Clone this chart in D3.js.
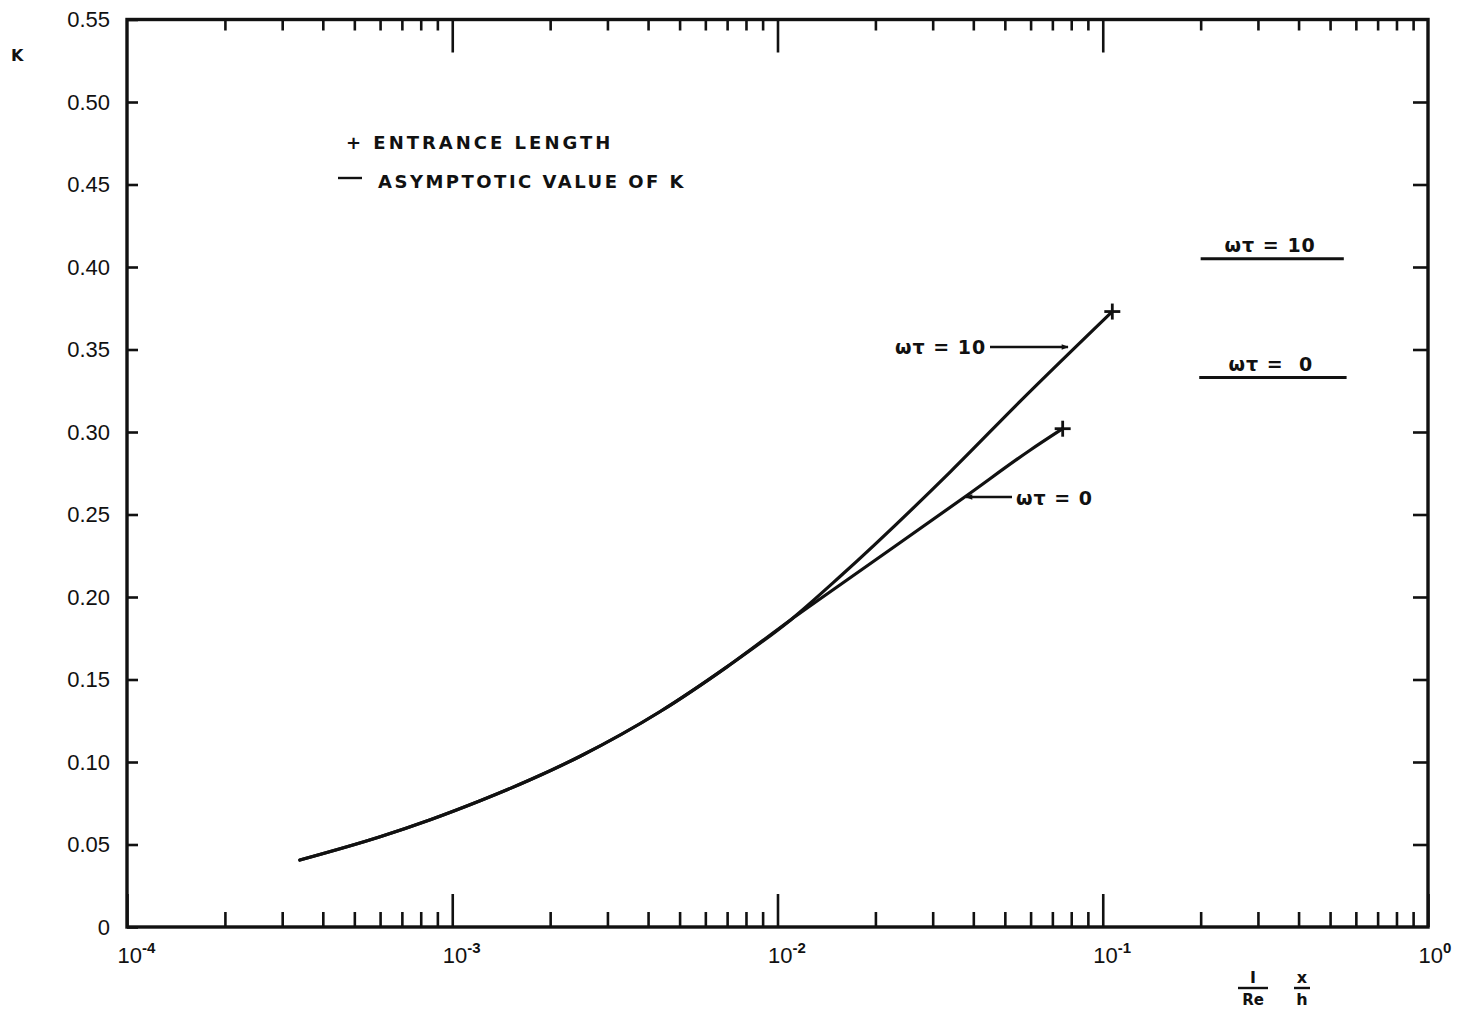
<!DOCTYPE html>
<html>
<head>
<meta charset="utf-8">
<script src="https://cdn.jsdelivr.net/npm/d3@7"></script>
<style>
  html, body { margin: 0; padding: 0; background: #fff; }
  svg { display: block; }
  text { font-family: "DejaVu Sans", "Liberation Sans", Arial, sans-serif; font-weight: bold; fill: #111; }
  .num { font-family: "Liberation Sans", "DejaVu Sans", Arial, sans-serif; }
</style>
</head>
<body>
<svg id="chart" width="1460" height="1013"></svg>
<script>
// K versus (1/Re)(x/h), log scale on x
const sharedX = [3.4e-4, 6.0e-4, 8.56e-4, 1.218e-3, 1.736e-3, 2.474e-3, 4.36e-3, 7.01e-3, 1.097e-2];
const sharedK = [0.0406, 0.0547, 0.065, 0.0765, 0.0892, 0.1035, 0.1306, 0.1578, 0.1861];

const branch10X = [0.01563, 0.03405, 0.056, 0.107];
const branch10K = [0.2127, 0.276, 0.319, 0.373];

const branch0X = [0.01677, 0.0384, 0.0596, 0.0753];
const branch0K = [0.2118, 0.2618, 0.2888, 0.302];

// end of the entrance length (+ markers)
const entranceX = [0.107, 0.0753];
const entranceK = [0.373, 0.302];

// asymptotic values of K
const asymLabels = ["ωτ = 10", "ωτ =  0"];
const asymK = [0.405, 0.333];
const asymX0 = [0.200, 0.198];
const asymX1 = [0.551, 0.562];

const yTicks = [0, 0.05, 0.10, 0.15, 0.20, 0.25, 0.30, 0.35, 0.40, 0.45, 0.50, 0.55];
const yTickLabels = ["0", "0.05", "0.10", "0.15", "0.20", "0.25", "0.30", "0.35", "0.40", "0.45", "0.50", "0.55"];
const decades = [1e-4, 1e-3, 1e-2, 1e-1, 1e0];
const decadeExp = ["-4", "-3", "-2", "-1", "0"];

const svg = d3.select("#chart");
const mLeft = 127, mRight = 1428, mTop = 19.5, mBottom = 927;

const x = d3.scaleLog().domain([1e-4, 1]).range([mLeft, mRight]);
const y = d3.scaleLinear().domain([0, 0.55]).range([mBottom, mTop]);

const minorTicks = [];
for (let d = -4; d < 0; d++) for (let m = 2; m <= 9; m++) minorTicks.push(m * Math.pow(10, d));

function styleAxis(g) {
  g.select(".domain").remove();
  g.selectAll(".tick line").attr("stroke", "#111").attr("stroke-width", 2.6);
}

// bottom axis: ticks point inward
svg.append("g").attr("transform", `translate(0,${mBottom})`)
  .call(d3.axisBottom(x).tickValues(minorTicks).tickSize(-15).tickFormat(""))
  .call(styleAxis);
const bMajor = svg.append("g").attr("transform", `translate(0,${mBottom})`)
  .call(d3.axisBottom(x).tickValues(decades).tickSize(-33).tickFormat(""))
  .call(styleAxis);
bMajor.selectAll(".tick text").remove();
bMajor.selectAll(".tick").each(function(d, i) {
  const t = d3.select(this).append("text")
    .attr("class", "num")
    .attr("x", -10).attr("y", 36).attr("text-anchor", "start")
    .style("font-size", "22px").style("font-weight", "normal");
  t.append("tspan").text("10");
  t.append("tspan").attr("dy", -10).style("font-size", "15px").style("font-weight", "bold").text(decadeExp[i]);
});

// top axis
svg.append("g").attr("transform", `translate(0,${mTop})`)
  .call(d3.axisTop(x).tickValues(minorTicks).tickSize(-11).tickFormat(""))
  .call(styleAxis);
svg.append("g").attr("transform", `translate(0,${mTop})`)
  .call(d3.axisTop(x).tickValues(decades.slice(1, 4)).tickSize(-33).tickFormat(""))
  .call(styleAxis);

// left axis
const lAxis = svg.append("g").attr("transform", `translate(${mLeft},0)`)
  .call(d3.axisLeft(y).tickValues(yTicks).tickSize(-11)
    .tickFormat((d, i) => yTickLabels[i]))
  .call(styleAxis);
lAxis.selectAll(".tick text").attr("class", "num")
  .style("font-size", "22px").style("font-weight", "normal")
  .attr("fill", "#111").attr("x", -17).attr("dy", "0.34em");

// right axis
svg.append("g").attr("transform", `translate(${mRight},0)`)
  .call(d3.axisRight(y).tickValues(yTicks.slice(1, 11)).tickSize(-15).tickFormat(""))
  .call(styleAxis);

// frame
svg.append("rect").attr("x", mLeft).attr("y", mTop)
  .attr("width", mRight - mLeft).attr("height", mBottom - mTop)
  .attr("fill", "none").attr("stroke", "#111").attr("stroke-width", 3.4);

// axis titles
svg.append("text").attr("x", 11).attr("y", 61).style("font-size", "16px").text("K");
const fx = 1253, fx2 = 1302;
svg.append("text").attr("x", fx).attr("y", 983).attr("text-anchor", "middle").style("font-size", "16px").text("I");
svg.append("line").attr("x1", fx - 15).attr("x2", fx + 15).attr("y1", 988).attr("y2", 988).attr("stroke", "#111").attr("stroke-width", 2.4);
svg.append("text").attr("x", fx).attr("y", 1005).attr("text-anchor", "middle").style("font-size", "15px").text("Re");
svg.append("text").attr("x", fx2).attr("y", 983).attr("text-anchor", "middle").style("font-size", "16px").text("x");
svg.append("line").attr("x1", fx2 - 8).attr("x2", fx2 + 8).attr("y1", 988).attr("y2", 988).attr("stroke", "#111").attr("stroke-width", 2.4);
svg.append("text").attr("x", fx2).attr("y", 1005).attr("text-anchor", "middle").style("font-size", "16px").text("h");

// curves
const line = d3.line().x(d => x(d[0])).y(d => y(d[1])).curve(d3.curveMonotoneX);
const series = [
  sharedX.map((v, i) => [v, sharedK[i]]).concat(branch10X.map((v, i) => [v, branch10K[i]])),
  sharedX.map((v, i) => [v, sharedK[i]]).concat(branch0X.map((v, i) => [v, branch0K[i]]))
];
svg.selectAll("path.curve").data(series).join("path")
  .attr("class", "curve")
  .attr("d", line)
  .attr("fill", "none").attr("stroke", "#111").attr("stroke-width", 3.2).attr("stroke-linecap", "round");

// entrance-length markers
const cross = svg.selectAll("g.cross").data(entranceX).join("g")
  .attr("class", "cross")
  .attr("transform", (d, i) => `translate(${x(d)},${y(entranceK[i])})`);
cross.append("line").attr("x1", -8).attr("x2", 8).attr("stroke", "#111").attr("stroke-width", 2.8);
cross.append("line").attr("y1", -8).attr("y2", 8).attr("stroke", "#111").attr("stroke-width", 2.8);

// asymptotic values
asymK.forEach((k, i) => {
  svg.append("line")
    .attr("x1", x(asymX0[i])).attr("x2", x(asymX1[i]))
    .attr("y1", y(k)).attr("y2", y(k))
    .attr("stroke", "#111").attr("stroke-width", 3);
  svg.append("text")
    .attr("x", (x(asymX0[i]) + x(asymX1[i])) / 2 - 2)
    .attr("y", y(k) - 7)
    .attr("text-anchor", "middle")
    .attr("letter-spacing", "1px")
    .style("font-size", "19px")
    .style("white-space", "pre")
    .attr("xml:space", "preserve")
    .text(asymLabels[i]);
});

// arrow labels on the curves
svg.append("defs").append("marker")
  .attr("id", "arrow").attr("viewBox", "0 0 10 10").attr("refX", 9).attr("refY", 5)
  .attr("markerWidth", 10).attr("markerHeight", 7).attr("orient", "auto-start-reverse")
  .attr("markerUnits", "userSpaceOnUse")
  .append("path").attr("d", "M0,1 L10,5 L0,9 Z").attr("fill", "#111");

svg.append("text").attr("x", 895).attr("y", 354).attr("letter-spacing", "1px").style("font-size", "19px").text("ωτ = 10");
svg.append("line").attr("x1", 990).attr("x2", 1068).attr("y1", 347).attr("y2", 347)
  .attr("stroke", "#111").attr("stroke-width", 2.6).attr("marker-end", "url(#arrow)");

svg.append("text").attr("x", 1016).attr("y", 505).attr("letter-spacing", "1px").style("font-size", "19px").text("ωτ = 0");
svg.append("line").attr("x1", 1012).attr("x2", 966).attr("y1", 497).attr("y2", 497)
  .attr("stroke", "#111").attr("stroke-width", 2.6).attr("marker-end", "url(#arrow)");

// legend
svg.append("text").attr("x", 346).attr("y", 149).style("font-size", "18px").attr("letter-spacing", "3px")
  .text("+ ENTRANCE LENGTH");
svg.append("line").attr("x1", 338).attr("x2", 362).attr("y1", 178).attr("y2", 178)
  .attr("stroke", "#111").attr("stroke-width", 2.4);
svg.append("text").attr("x", 378).attr("y", 188).style("font-size", "18px").attr("letter-spacing", "2.5px")
  .text("ASYMPTOTIC VALUE OF K");
</script>
</body>
</html>
